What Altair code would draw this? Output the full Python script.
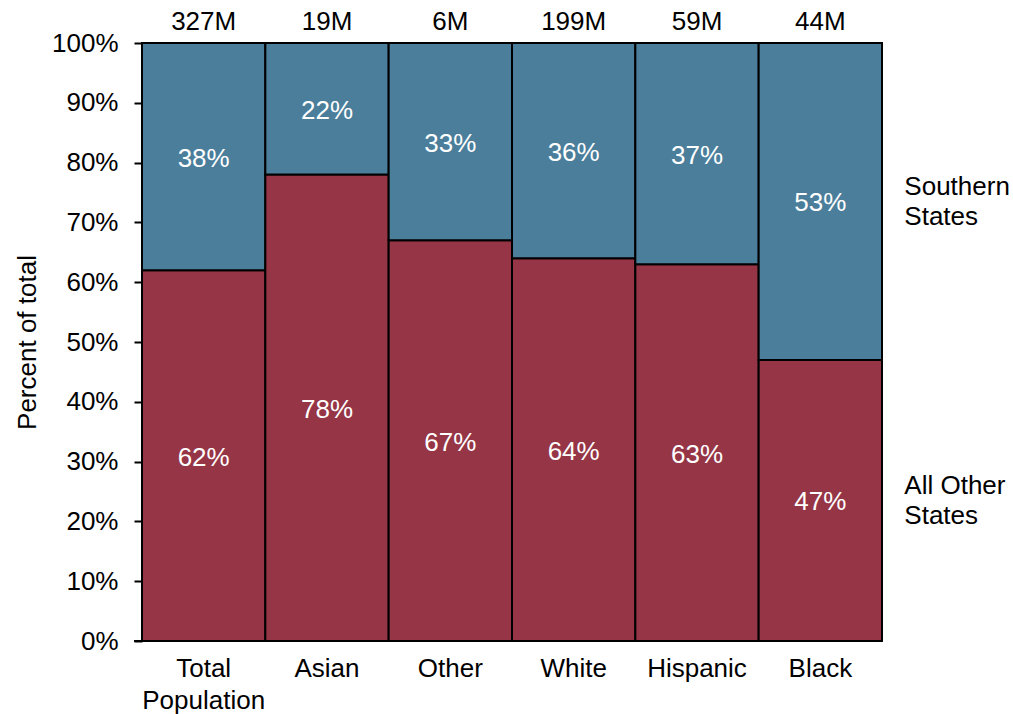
import altair as alt
import pandas as pd

categories = ["Total Population", "Asian", "Other", "White", "Hispanic", "Black"]
populations = ["327M", "19M", "6M", "199M", "59M", "44M"]
other_pct = [62, 78, 67, 64, 63, 47]
south_pct = [38, 22, 33, 36, 37, 53]
series_names = ["All Other States", "Southern States"]
series_colors = ["#953546", "#4A7E9B"]

rows = []
for c, o, s in zip(categories, other_pct, south_pct):
    rows.append({"cat": c, "series": series_names[0], "y0": 0, "y1": o, "val": o,
                 "mid": o / 2, "label": f"{o}%"})
    rows.append({"cat": c, "series": series_names[1], "y0": o, "y1": o + s, "val": s,
                 "mid": o + s / 2, "label": f"{s}%"})
df = pd.DataFrame(rows)
top_df = pd.DataFrame({"cat": categories, "pop": populations})
last = categories[-1]
side_df = df[df["cat"] == last].copy()
side_df["name"] = side_df["series"].map({"All Other States": "All Other\nStates",
                                          "Southern States": "Southern\nStates"})

FONT = "Liberation Sans"
FS = 26
W, H = 740, 598

xenc = alt.X("cat:N", sort=categories,
             scale=alt.Scale(paddingInner=0, paddingOuter=0),
             axis=alt.Axis(title=None, labelAngle=0, ticks=False, domain=False,
                           labelFontSize=FS, labelFont=FONT, labelColor="black",
                           labelPadding=14, labelBaseline="top",
                           labelLineHeight=32,
                           labelExpr="split(datum.label, ' ')"))
yscale = alt.Scale(domain=[0, 100], nice=False)

bars = alt.Chart(df).mark_bar(stroke="black", strokeWidth=2).encode(
    x=xenc,
    y=alt.Y("y0:Q", scale=yscale,
            axis=alt.Axis(title="Percent of total", values=list(range(0, 101, 10)),
                          labelExpr="datum.value + '%'", grid=False, domain=False,
                          tickColor="black", tickSize=8, tickWidth=2,
                          labelFontSize=FS, labelFont=FONT, labelColor="black",
                          labelPadding=16, titleFontSize=FS, titleFont=FONT,
                          titleFontWeight="normal", titleColor="black",
                          titlePadding=11)),
    y2="y1:Q",
    color=alt.Color("series:N", scale=alt.Scale(domain=series_names, range=series_colors),
                    legend=None),
)

inlabels = alt.Chart(df).mark_text(color="white", fontSize=FS, font=FONT,
                                   baseline="middle", dy=2).encode(
    x=alt.X("cat:N", sort=categories),
    y=alt.Y("mid:Q", scale=yscale),
    text="label:N",
)

toplabels = alt.Chart(top_df).mark_text(color="black", fontSize=FS, font=FONT,
                                        baseline="middle").encode(
    x=alt.X("cat:N", sort=categories),
    y=alt.value(-21),
    text="pop:N",
)

sidelabels = alt.Chart(side_df).mark_text(color="black", fontSize=FS, font=FONT,
                                          baseline="middle", align="left", dx=84,
                                          dy=-14, lineBreak="\n", lineHeight=30).encode(
    x=alt.X("cat:N", sort=categories),
    y=alt.Y("mid:Q", scale=yscale),
    text="name:N",
)

baseline = alt.Chart(top_df).mark_rule(color="black", strokeWidth=2).encode(
    x=alt.value(-8), x2=alt.value(W), y=alt.value(H)
)

chart = alt.layer(bars, inlabels, toplabels, sidelabels, baseline).properties(
    width=W, height=H,
    autosize=alt.AutoSizeParams(type="none"),
    padding={"left": 142, "top": 43, "right": 131, "bottom": 73},
).configure_view(stroke=None).configure(background="white")

chart.save("out.html", embed_options={"renderer": "svg", "actions": False})
